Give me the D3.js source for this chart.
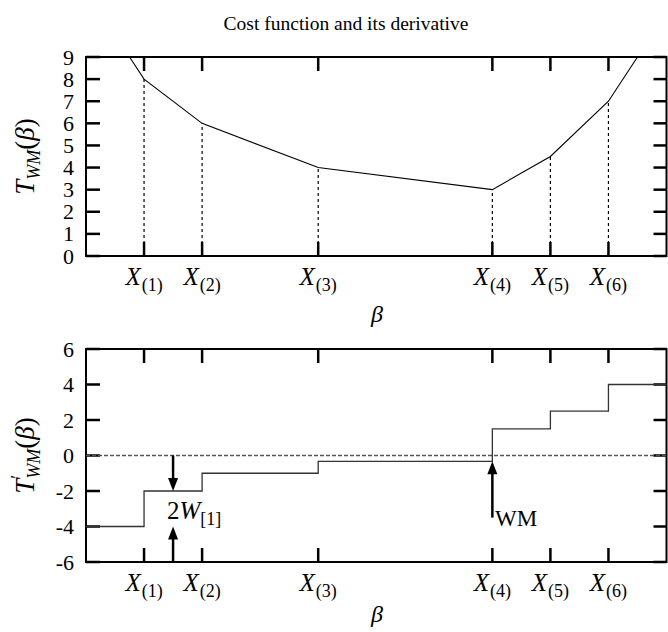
<!DOCTYPE html>
<html>
<head>
<meta charset="utf-8">
<script src="https://cdn.jsdelivr.net/npm/d3@7"></script>
<style>
  body { margin: 0; background: #fff; }
</style>
</head>
<body>
<svg id="chart" width="668" height="632"></svg>
<script>
/* cost function of the weighted median and its derivative */

// order statistics X(1)..X(6) on the beta axis
const xPoints = [1, 2, 4, 7, 8, 9];
const xTickNames = ["1", "2", "3", "4", "5", "6"];
// cost T_WM(beta) at each X(i)
const costAtX = [8, 6, 4, 3, 4.5, 7];
// cost curve, including where it leaves the top of the frame
const costBeta = [0.75, 1, 2, 4, 7, 8, 9, 9.5];
const costValue = [9, 8, 6, 4, 3, 4.5, 7, 9];
// derivative, a step function (value holds until next beta)
const stepBeta = [0, 1, 2, 4, 7, 8, 9, 10];
const stepValue = [-4, -2, -1, -0.33, 1.5, 2.5, 4, 4];
const topTicks = [0, 1, 2, 3, 4, 5, 6, 7, 8, 9];
const bottomTicks = [-6, -4, -2, 0, 2, 4, 6];

const FONT = '"Liberation Serif"';
const svg = d3.select("#chart");

// every text goes through here so the serif font is set on it
function txt(sel, size, italic) {
	return sel.style("font-family", FONT)
		.style("font-size", size + "px")
		.style("font-style", italic ? "italic" : "normal");
}

const x = d3.scaleLinear().domain([0, 10]).range([86, 666.5]);
const yTop = d3.scaleLinear().domain([0, 9]).range([256, 57]);
const yBot = d3.scaleLinear().domain([-6, 6]).range([562, 349]);

// title
txt(svg.append("text"), 19.5)
	.attr("x", 346).attr("y", 30)
	.attr("text-anchor", "middle")
	.text("Cost function and its derivative");

// draws ticks + frame + labels for one panel
function drawPanel(y, yTicks) {
	const [y0, y1] = y.range();
	const g = svg.append("g");

	// y ticks left and right, pointing inward
	yTicks.forEach(t => {
		g.append("line")
			.attr("x1", x.range()[0]).attr("x2", x.range()[0] + 14)
			.attr("y1", y(t)).attr("y2", y(t))
			.attr("stroke", "#000").attr("stroke-width", 2.5);
		g.append("line")
			.attr("x1", x.range()[1]).attr("x2", x.range()[1] - 13)
			.attr("y1", y(t)).attr("y2", y(t))
			.attr("stroke", "#000").attr("stroke-width", 2.5);
		txt(g.append("text"), 22)
			.attr("x", 74).attr("y", y(t) + 7.5)
			.attr("text-anchor", "end")
			.text(t);
	});

	// x ticks bottom and top
	xPoints.forEach((p, i) => {
		g.append("line")
			.attr("x1", x(p)).attr("x2", x(p))
			.attr("y1", y0).attr("y2", y0 - 14)
			.attr("stroke", "#000").attr("stroke-width", 2.5);
		g.append("line")
			.attr("x1", x(p)).attr("x2", x(p))
			.attr("y1", y1).attr("y2", y1 + 14)
			.attr("stroke", "#000").attr("stroke-width", 2.5);
		const lab = txt(g.append("text"), 24)
			.attr("x", x(p)).attr("y", y0 + 29)
			.attr("text-anchor", "middle");
		txt(lab.append("tspan"), 25, true).text("X");
		txt(lab.append("tspan"), 18).attr("dx", 1).attr("dy", 6).text("(" + xTickNames[i] + ")");
	});

	// frame
	g.append("rect")
		.attr("x", x.range()[0]).attr("y", y1)
		.attr("width", x.range()[1] - x.range()[0]).attr("height", y0 - y1)
		.attr("fill", "none").attr("stroke", "#000").attr("stroke-width", 2);

	// beta label
	txt(svg.append("text"), 24, true)
		.attr("x", 377).attr("y", Math.min(y0 + 66, 622))
		.attr("text-anchor", "middle")
		.text("β");

	return g;
}

// ---- top panel: cost function ----
drawPanel(yTop, topTicks);

svg.append("g").selectAll("line").data(xPoints).enter()
	.append("line")
	.attr("x1", d => x(d)).attr("x2", d => x(d))
	.attr("y1", yTop(0)).attr("y2", (d, i) => yTop(costAtX[i]))
	.attr("stroke", "#000").attr("stroke-width", 1.2)
	.attr("stroke-dasharray", "3,3");

const costLine = d3.line().x(d => x(d[0])).y(d => yTop(d[1]));
svg.append("path")
	.attr("d", costLine(costBeta.map((b, i) => [b, costValue[i]])))
	.attr("fill", "none").attr("stroke", "#000").attr("stroke-width", 1.1);

// y label (rotated)
const lt = txt(svg.append("text"), 26)
	.attr("transform", `translate(34, ${(yTop.range()[0] + yTop.range()[1]) / 2}) rotate(-90)`)
	.attr("text-anchor", "middle");
txt(lt.append("tspan"), 27, true).text("T");
txt(lt.append("tspan"), 18, true).attr("dy", 6).text("WM");
txt(lt.append("tspan"), 27).attr("dy", -6).text("(");
txt(lt.append("tspan"), 27, true).text("β");
txt(lt.append("tspan"), 27).text(")");

// ---- bottom panel: derivative ----
drawPanel(yBot, bottomTicks);

svg.append("line")
	.attr("x1", x(0)).attr("x2", x(10))
	.attr("y1", yBot(0)).attr("y2", yBot(0))
	.attr("stroke", "#555").attr("stroke-width", 1.3)
	.attr("stroke-dasharray", "4,2");

const stepLine = d3.line().curve(d3.curveStepAfter).x(d => x(d[0])).y(d => yBot(d[1]));
svg.append("path")
	.attr("d", stepLine(stepBeta.map((b, i) => [b, stepValue[i]])))
	.attr("fill", "none").attr("stroke", "#333").attr("stroke-width", 1.3);

// arrows: [beta, from, to]
const arrows = [[1.5, 0, -2], [1.5, -6, -4], [7, -3.5, -0.33]];
arrows.forEach(([b, from, to]) => {
	const dir = Math.sign(yBot(to) - yBot(from));
	const tip = yBot(to);
	svg.append("line")
		.attr("x1", x(b)).attr("x2", x(b))
		.attr("y1", yBot(from)).attr("y2", tip - dir * 8)
		.attr("stroke", "#000").attr("stroke-width", 2.5);
	svg.append("path")
		.attr("d", `M${x(b)},${tip} L${x(b) - 5},${tip - dir * 13} L${x(b) + 5},${tip - dir * 13} Z`)
		.attr("fill", "#000");
});

const w1 = txt(svg.append("text"), 24).attr("x", 167).attr("y", 519);
txt(w1.append("tspan"), 25).text("2");
txt(w1.append("tspan"), 25, true).text("W");
txt(w1.append("tspan"), 18).attr("dy", 6).text("[1]");

txt(svg.append("text"), 23)
	.attr("x", 495).attr("y", 526)
	.text("WM");

const lb = txt(svg.append("text"), 26)
	.attr("transform", `translate(34, ${(yBot.range()[0] + yBot.range()[1]) / 2}) rotate(-90)`)
	.attr("text-anchor", "middle");
txt(lb.append("tspan"), 27, true).text("T");
txt(lb.append("tspan"), 18).attr("dy", -10).text("′");
txt(lb.append("tspan"), 18, true).attr("dx", -4).attr("dy", 16).text("WM");
txt(lb.append("tspan"), 27).attr("dy", -6).text("(");
txt(lb.append("tspan"), 27, true).text("β");
txt(lb.append("tspan"), 27).text(")");
</script>
</body>
</html>
